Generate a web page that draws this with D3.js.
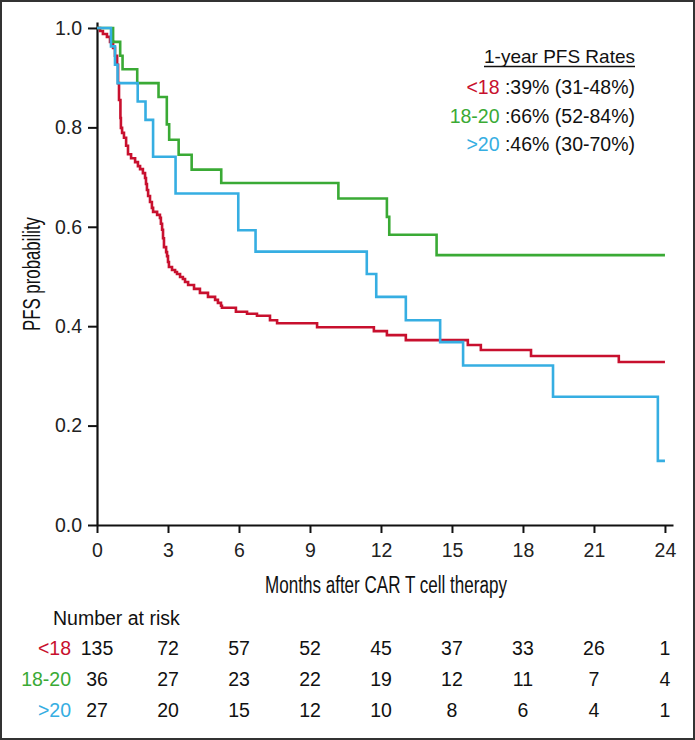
<!DOCTYPE html>
<html>
<head>
<meta charset="utf-8">
<script src="https://cdn.jsdelivr.net/npm/d3@7"></script>
<style>
  body { margin: 0; background: #fff; }
  svg { display: block; font-family: "Liberation Sans", Arial, sans-serif; }
</style>
</head>
<body>
<svg id="chart" width="695" height="740"></svg>
<script>
// groups
const groups = ['<18', '18-20', '>20'];
const groupColors = ['#c8102e', '#3aaa35', '#36aee2'];

// KM step points (months, survival)
const redTimes = [0.13, 0.25, 0.42, 0.55, 0.68, 0.76, 0.85, 0.89, 0.93, 0.99, 1.01, 1.06, 1.14, 1.23, 1.31, 1.44, 1.61, 1.73, 1.82, 1.94, 2.03, 2.07, 2.11, 2.16, 2.24, 2.32, 2.37, 2.54, 2.66, 2.70, 2.75, 2.79, 2.83, 2.92, 2.96, 3.00, 3.04, 3.17, 3.30, 3.38, 3.51, 3.63, 3.72, 3.85, 4.10, 4.35, 4.69, 4.99, 5.11, 5.24, 5.28, 5.87, 6.34, 6.76, 7.31, 7.61, 9.30, 11.70, 12.25, 13.05, 15.67, 16.22, 18.34, 22.05];
const redSurv = [0.994, 0.988, 0.982, 0.972, 0.960, 0.944, 0.926, 0.889, 0.855, 0.819, 0.799, 0.789, 0.779, 0.763, 0.746, 0.738, 0.730, 0.722, 0.716, 0.708, 0.698, 0.686, 0.674, 0.662, 0.650, 0.638, 0.630, 0.624, 0.618, 0.606, 0.594, 0.577, 0.559, 0.549, 0.541, 0.529, 0.519, 0.513, 0.509, 0.505, 0.499, 0.495, 0.489, 0.483, 0.475, 0.467, 0.459, 0.453, 0.447, 0.441, 0.437, 0.429, 0.425, 0.421, 0.412, 0.406, 0.398, 0.390, 0.382, 0.372, 0.362, 0.352, 0.340, 0.328];

const greenTimes = [0.68, 0.98, 1.08, 1.70, 2.60, 2.95, 3.05, 3.45, 4.00, 5.25, 10.20, 12.25, 12.35, 14.35];
const greenSurv = [0.972, 0.944, 0.917, 0.889, 0.861, 0.806, 0.775, 0.745, 0.715, 0.688, 0.657, 0.620, 0.584, 0.543];

const blueTimes = [0.59, 0.76, 0.87, 1.72, 2.05, 2.37, 3.32, 5.97, 6.70, 11.40, 11.80, 13.05, 14.50, 15.47, 19.27, 23.70];
const blueSurv = [0.963, 0.926, 0.889, 0.852, 0.815, 0.741, 0.667, 0.593, 0.550, 0.505, 0.459, 0.412, 0.368, 0.321, 0.258, 0.129];

// axes
const xTicks = [0, 3, 6, 9, 12, 15, 18, 21, 24];
const yTicks = [0, 0.2, 0.4, 0.6, 0.8, 1.0];

// number at risk
const riskLt18 = [135, 72, 57, 52, 45, 37, 33, 26, 1];
const risk18to20 = [36, 27, 23, 22, 19, 12, 11, 7, 4];
const riskGt20 = [27, 20, 15, 12, 10, 8, 6, 4, 1];

// 1-year rates
const rateTexts = [':39% (31-48%)', ':66% (52-84%)', ':46% (30-70%)'];

const svg = d3.select('#chart');

// frame
svg.append('rect')
  .attr('x', 1).attr('y', 1)
  .attr('width', 693).attr('height', 738)
  .attr('fill', 'none')
  .attr('stroke', '#333')
  .attr('stroke-width', 2);

const x = d3.scaleLinear().domain([0, 24.34]).range([97, 673]);
const y = d3.scaleLinear().domain([0, 1.012]).range([525, 22]);

// y axis
const yAxis = svg.append('g')
  .attr('transform', 'translate(97,0)')
  .call(d3.axisLeft(y).tickValues(yTicks).tickFormat(d3.format('.1f'))
    .tickSize(9).tickSizeOuter(0).tickPadding(6));
yAxis.selectAll('text').style('font-size', '19.5px').attr('fill', '#222');

// x axis
const xAxis = svg.append('g')
  .attr('transform', 'translate(0,525)')
  .call(d3.axisBottom(x).tickValues(xTicks)
    .tickSize(8).tickSizeOuter(0).tickPadding(10));
xAxis.selectAll('text').style('font-size', '19.5px').attr('fill', '#222');

svg.selectAll('.domain').attr('stroke', '#111').attr('stroke-width', 2.2);
svg.selectAll('.tick line').attr('stroke', '#111').attr('stroke-width', 2);

// axis titles
svg.append('text')
  .attr('x', 386).attr('y', 593)
  .attr('text-anchor', 'middle')
  .attr('textLength', 242).attr('lengthAdjust', 'spacingAndGlyphs')
  .style('font-size', '23px').attr('fill', '#111')
  .text('Months after CAR T cell therapy');

svg.append('text')
  .attr('transform', 'translate(40,274) rotate(-90)')
  .attr('text-anchor', 'middle')
  .attr('textLength', 114).attr('lengthAdjust', 'spacingAndGlyphs')
  .style('font-size', '23px').attr('fill', '#111')
  .text('PFS probability');

// curves
const line = d3.line()
  .x(d => x(d[0]))
  .y(d => y(d[1]))
  .curve(d3.curveStepAfter);

const series = [
  [redTimes, redSurv],
  [greenTimes, greenSurv],
  [blueTimes, blueSurv]
];

series.forEach(([times, surv], i) => {
  const pts = [[0, 1]].concat(times.map((t, j) => [t, surv[j]]));
  pts.push([24, surv[surv.length - 1]]);
  svg.append('path')
    .datum(pts)
    .attr('d', line)
    .attr('fill', 'none')
    .attr('stroke', groupColors[i])
    .attr('stroke-width', 2.6);
});

// legend
const legendX = 635;
const header = svg.append('text')
  .attr('x', legendX).attr('y', 63)
  .attr('text-anchor', 'end')
  .style('font-size', '19px').attr('fill', '#111')
  .text('1-year PFS Rates');
const hw = header.node().getComputedTextLength();
svg.append('line')
  .attr('x1', legendX - hw).attr('x2', legendX)
  .attr('y1', 66.5).attr('y2', 66.5)
  .attr('stroke', '#111').attr('stroke-width', 1.3);

groups.forEach((g, i) => {
  const t = svg.append('text')
    .attr('x', legendX).attr('y', 94 + i * 28.5)
    .attr('text-anchor', 'end')
    .style('font-size', '19.5px');
  t.append('tspan').attr('fill', groupColors[i]).text(g);
  t.append('tspan').attr('fill', '#111').text(' ' + rateTexts[i]);
});

// number at risk table
svg.append('text')
  .attr('x', 53).attr('y', 625)
  .style('font-size', '19.5px').attr('fill', '#111')
  .text('Number at risk');

const riskRows = [riskLt18, risk18to20, riskGt20];
riskRows.forEach((row, i) => {
  const yy = 655 + i * 31;
  svg.append('text')
    .attr('x', 71).attr('y', yy)
    .attr('text-anchor', 'end')
    .style('font-size', '19.5px')
    .attr('fill', groupColors[i])
    .text(groups[i]);
  svg.selectAll(null)
    .data(row)
    .enter().append('text')
    .attr('x', (d, j) => x(xTicks[j]))
    .attr('y', yy)
    .attr('text-anchor', 'middle')
    .style('font-size', '19.5px')
    .attr('fill', '#111')
    .text(d => d);
});
</script>
</body>
</html>
